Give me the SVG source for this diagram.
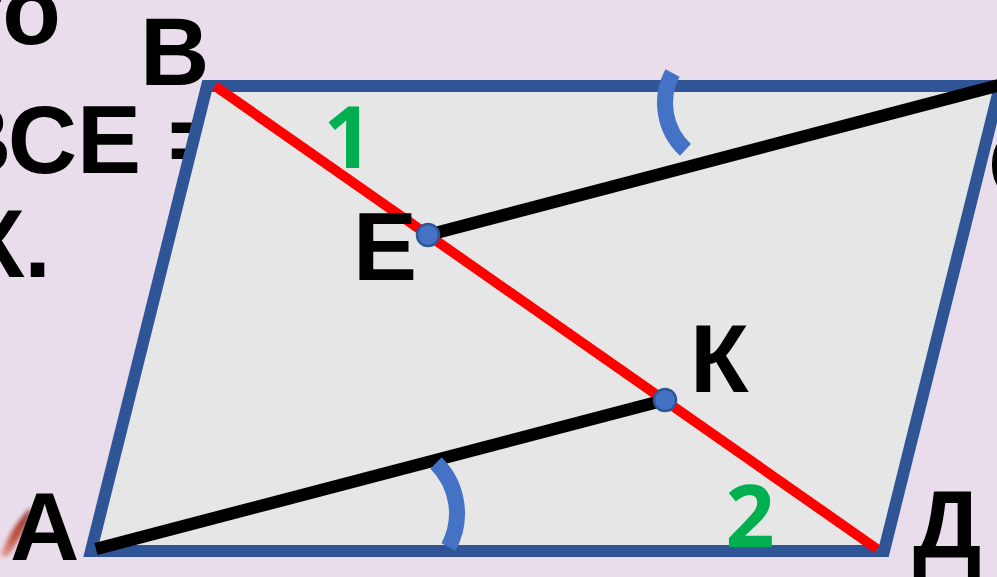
<svg xmlns="http://www.w3.org/2000/svg" width="997" height="577" viewBox="0 0 997 577">
<defs>
<style>
.lbl{font-family:"Liberation Sans",Arial,sans-serif;font-weight:bold;font-size:96px;fill:#000}
.num{font-family:"Open Sans","Noto Sans",sans-serif;font-weight:bold;font-size:86px;fill:#00B050;text-anchor:middle}
.seg{stroke:#000;stroke-width:12.5;fill:none}
.arc{stroke:#4472C4;stroke-width:16;fill:none}
.dot{fill:#4472C4;stroke:#2F5597;stroke-width:2.5}
</style>
<filter id="blur" x="-50%" y="-50%" width="200%" height="200%"><feGaussianBlur stdDeviation="2"/></filter>
<linearGradient id="fg" x1="0" y1="1" x2="1" y2="0">
<stop offset="0" stop-color="#E0A098"/>
<stop offset="0.45" stop-color="#C04030"/>
<stop offset="1" stop-color="#7A2418"/>
</linearGradient>
</defs>
<rect width="997" height="577" fill="#E9DDEB"/>
<g id="slide-text">
<text class="lbl" x="61" y="44" text-anchor="end">то</text>
<text class="lbl" x="-58" y="173">ВСЕ =</text>
<text class="lbl" x="51" y="277" text-anchor="end">К.</text>
</g>
<g id="feather" filter="url(#blur)">
<path d="M0,556 C6,540 16,522 30,508 C32,516 22,536 8,556 Z" fill="url(#fg)" opacity="0.9"/>
</g>
<g id="parallelogram">
<polygon points="91,551 207,86 1000,86 884,551" fill="#E6E6E6" stroke="#2F5597" stroke-width="12" stroke-linejoin="miter"/>
</g>
<g id="connectors">
<line id="BD" x1="215" y1="86" x2="877" y2="549" stroke="#FF0000" stroke-width="10"/>
<line id="EC" class="seg" x1="428" y1="235" x2="1000" y2="85"/>
<line id="AK" class="seg" x1="96" y1="549" x2="665" y2="400"/>
<path id="arc-top" class="arc" d="M672.5,73 A64,64 0 0 0 685.4,149.8"/>
<path id="arc-bottom" class="arc" d="M436,463 A71,71 0 0 1 448.5,547"/>
</g>
<g id="node-E"><circle class="dot" cx="428" cy="235" r="11"/><text class="lbl" x="353" y="280">Е</text></g>
<g id="node-K"><circle class="dot" cx="665" cy="400" r="11"/><text class="lbl" x="690" y="392">К</text></g>
<g id="node-B"><text class="lbl" x="140" y="85">В</text></g>
<g id="node-A"><text class="lbl" x="10" y="560">А</text></g>
<g id="node-D"><text class="lbl" x="913" y="558">Д</text></g>
<g id="node-C"><text class="lbl" x="988" y="198">С</text></g>
<g id="angles">
<text class="num" x="348" y="168">1</text>
<text class="num" x="750" y="547">2</text>
</g>
</svg>
